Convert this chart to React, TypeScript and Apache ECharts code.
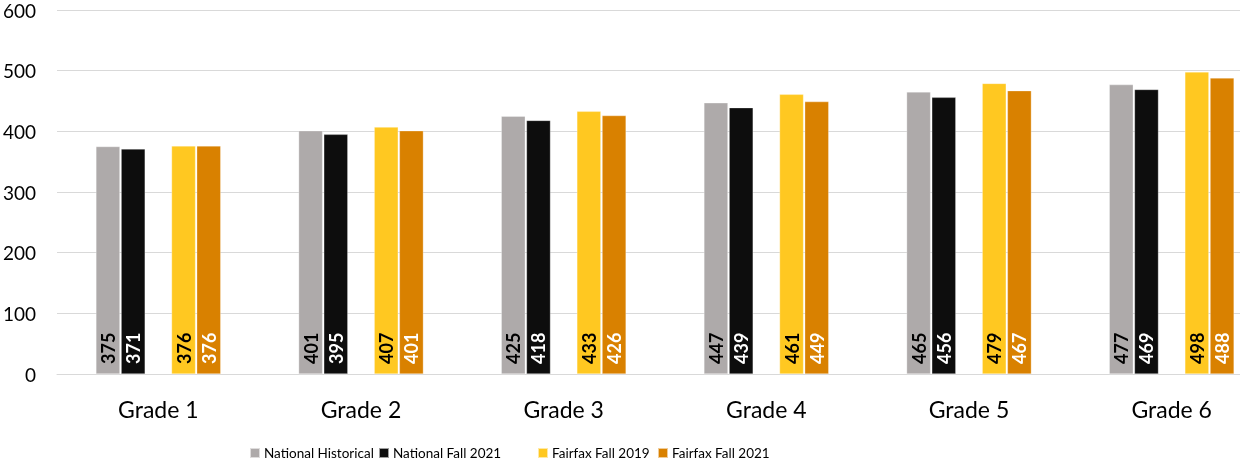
import React, { useEffect, useRef } from "react";
import * as echarts from "echarts";

const categories = ["Grade 1", "Grade 2", "Grade 3", "Grade 4", "Grade 5", "Grade 6"];
const nationalHistorical = [375, 401, 425, 447, 465, 477];
const nationalFall2021 = [371, 395, 418, 439, 456, 469];
const spacer = [null, null, null, null, null, null];
const fairfaxFall2019 = [376, 407, 433, 461, 479, 498];
const fairfaxFall2021 = [376, 401, 426, 449, 467, 488];
const legendNames = ["National Historical", "National Fall 2021", "Fairfax Fall 2019", "Fairfax Fall 2021"];

const FONT = "Lato";

function mkSeries(name: string, data: (number | null)[], color: string, labelColor: string) {
  return {
    name,
    type: "bar",
    data,
    barWidth: 24,
    barGap: "5%",
    itemStyle: { color, borderColor: "rgba(255,255,255,0.6)", borderWidth: 0.5 },
    label: {
      show: true,
      position: "insideBottom",
      rotate: 90,
      align: "left",
      verticalAlign: "middle",
      distance: 10,
      color: labelColor,
      fontFamily: FONT,
      fontSize: 18,
      fontWeight: "bold",
    },
  };
}

const legendLefts = [249, 378, 537, 657];

export default function App() {
  const ref = useRef<HTMLDivElement>(null);
  useEffect(() => {
    if (!ref.current) return;
    const chart = echarts.init(ref.current, null, { renderer: "svg" });
    chart.setOption({
      animation: false,
      textStyle: { fontFamily: FONT },
      grid: {
        left: 57,
        right: 7,
        top: 10,
        bottom: 90,
        containLabel: false,
        outerBoundsMode: "none",
      },
      legend: legendNames.map((n, i) => ({
        data: [n],
        left: legendLefts[i],
        top: 446,
        padding: 0,
        itemWidth: 10,
        itemHeight: 10,
        itemGap: 4,
        icon: "rect",
        textStyle: { fontFamily: FONT, fontSize: 13.5, color: "#000", padding: [0, 0, 0, -1] },
      })),
      xAxis: {
        type: "category",
        data: categories,
        axisLine: { show: true, lineStyle: { color: "#d9d9d9" } },
        axisTick: { show: false },
        axisLabel: { fontFamily: FONT, fontSize: 23, color: "#000", margin: 23 },
      },
      yAxis: {
        type: "value",
        min: 0,
        max: 600,
        interval: 100,
        axisLine: { show: false },
        axisTick: { show: false },
        splitLine: { lineStyle: { color: "#d9d9d9", width: 1 } },
        axisLabel: { fontFamily: FONT, fontSize: 19, color: "#000", margin: 21 },
      },
      series: [
        mkSeries("National Historical", nationalHistorical, "#aeaaaa", "#000"),
        mkSeries("National Fall 2021", nationalFall2021, "#0d0d0d", "#fff"),
        { ...mkSeries("spacer", spacer, "transparent", "#000"), label: { show: false } },
        mkSeries("Fairfax Fall 2019", fairfaxFall2019, "#ffc821", "#000"),
        mkSeries("Fairfax Fall 2021", fairfaxFall2021, "#d98100", "#fff"),
      ],
    });
    return () => chart.dispose();
  }, []);
  return (
    <div
      style={{ position: "fixed", left: 0, top: 0, width: 1240, height: 464, overflow: "hidden" }}
    >
      <div ref={ref} style={{ width: 1280, height: 464 }} />
    </div>
  );
}
